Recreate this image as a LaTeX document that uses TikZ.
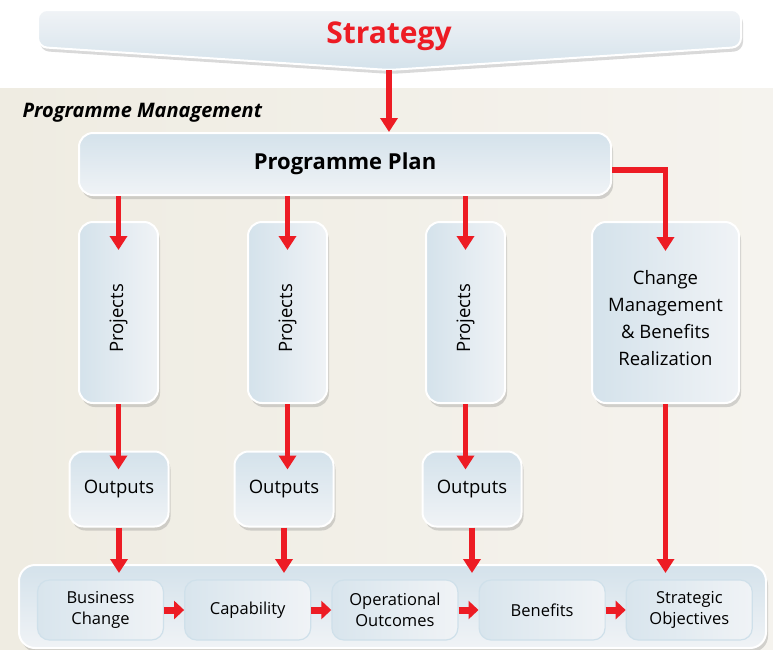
\documentclass[tikz,border=0pt]{standalone}
\usepackage{fontspec}
\setmainfont{Open Sans}
\usetikzlibrary{arrows.meta,positioning,shadows}
\definecolor{flowred}{HTML}{ED1C24}
\definecolor{paleblue}{HTML}{D4E2EB}
\definecolor{palewhite}{HTML}{F0F3F6}
\definecolor{sand}{HTML}{EFECE2}
\definecolor{sandlight}{HTML}{F5F3EE}
\definecolor{stageline}{HTML}{CFE0EA}

\begin{document}
\begin{tikzpicture}[x=1pt, y=-1pt,
    box/.style={draw=white, line width=2pt, rounded corners=14pt, inner sep=0pt, align=center,
        drop shadow={shadow xshift=2pt, shadow yshift=-4pt, opacity=0.3},
        font=\fontsize{18.5}{27}\selectfont},
    vbox/.style={box, left color=paleblue, right color=palewhite},
    hbox/.style={box, top color=paleblue, bottom color=palewhite},
    stage/.style={draw=stageline, line width=1.2pt, rounded corners=12pt, inner sep=0pt, align=center,
        left color=paleblue!90, right color=palewhite, minimum width=126pt, minimum height=60pt,
        font=\fontsize{16.5}{21}\selectfont},
    flow/.style={draw=flowred, line width=5.5pt, -{Triangle[width=17pt,length=14pt]}},
    stagearrow/.style={draw=flowred, line width=7pt, -{Triangle[width=18pt,length=10pt]}}]
    \useasboundingbox (0,0) rectangle (773,649);

    % Background
    \shade[left color=sand, right color=sandlight] (0,88) rectangle (773,649);
    \node[anchor=west, font=\fontsize{20}{22}\selectfont\bfseries\itshape] (pm) at (19,113) {Programme Management};

    % Top banner
    \path[draw=white, line width=2pt, rounded corners=9pt, top color=palewhite, bottom color=paleblue,
        drop shadow={shadow xshift=2pt, shadow yshift=-4pt, opacity=0.3}]
        (38,10) -- (741,10) -- (741,47) -- (389,70) -- (38,47) -- cycle;
    \coordinate (tip) at (389,70);
    \node[font=\fontsize{30}{32}\selectfont\bfseries, text=flowred] (strategy) at (389,36) {Strategy};

    % Plan
    \node[hbox, minimum width=532pt, minimum height=62pt, font=\fontsize{22}{24}\selectfont\bfseries] (plan) at (345,164) {Programme Plan};

    % Projects
    \node[vbox, minimum width=79pt, minimum height=181pt] (proj1) at (118.5,312.5) {\rotatebox{90}{Projects\hspace{12pt}}};
    \node[vbox, minimum width=79pt, minimum height=181pt] (proj2) at (287.5,312.5) {\rotatebox{90}{Projects\hspace{12pt}}};
    \node[vbox, minimum width=79pt, minimum height=181pt] (proj3) at (465.5,312.5) {\rotatebox{90}{Projects\hspace{12pt}}};
    \node[vbox, minimum width=147pt, minimum height=181pt] (change) at (665.5,312.5) {\rule{0pt}{26pt}Change\\Management\\\& Benefits\\Realization};

    % Outputs
    \node[hbox, minimum width=99pt, minimum height=75pt] (out1) at (119,489) {Outputs};
    \node[hbox, minimum width=99pt, minimum height=75pt] (out2) at (284,489) {Outputs};
    \node[hbox, minimum width=99pt, minimum height=75pt] (out3) at (472,489) {Outputs};

    % Bottom band
    \node[hbox, rounded corners=16pt, minimum width=747pt, minimum height=83pt] (band) at (392.5,606.5) {};
    \node[stage] (bizchange) at (100.5,610) {Business\\Change};
    \node[stage, right=20pt of bizchange] (capab) {Capability};
    \node[stage, right=20pt of capab] (opout) {Operational\\Outcomes};
    \node[stage, right=20pt of opout] (benef) {Benefits};
    \node[stage, right=20pt of benef] (stratobj) {Strategic\\Objectives};

    % Edges
    \draw[flow] (tip) -- (tip |- plan.north);
    \foreach \p in {proj1,proj2,proj3}
        \draw[flow, shorten >=-29pt] (plan.south -| \p) -- (\p.north);
    \draw[flow] ([yshift=-6pt]plan.east) -| ([yshift=-30pt]change.north);
    \foreach \p/\o in {proj1/out1,proj2/out2,proj3/out3} {
        \draw[flow, shorten >=-19pt] (\p.south) -- (\p.south |- \o.north);
        \draw[flow, shorten >=-9pt] (\o.south) -- (\o.south |- band.north);
    }
    \draw[flow, shorten >=-9pt] (change.south) -- (change.south |- band.north);
    \draw[stagearrow] (bizchange) -- (capab);
    \draw[stagearrow] (capab) -- (opout);
    \draw[stagearrow] (opout) -- (benef);
    \draw[stagearrow] (benef) -- (stratobj);
\end{tikzpicture}
\end{document}
